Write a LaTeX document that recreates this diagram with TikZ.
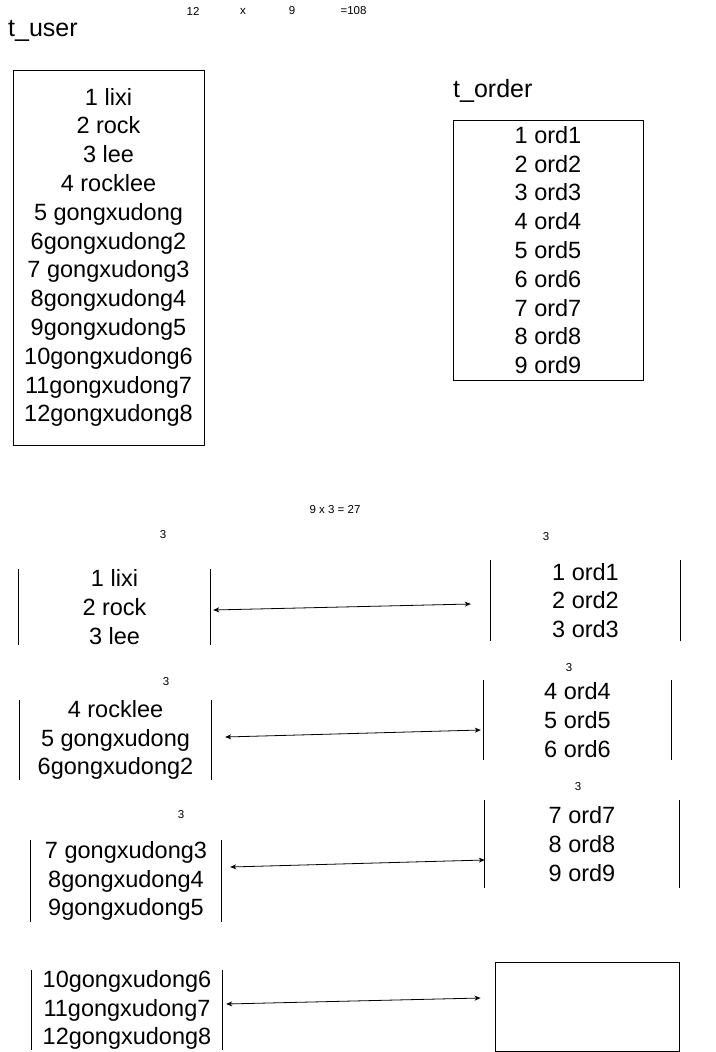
\documentclass[tikz,border=0pt]{standalone}
\usepackage{fontspec}
\setmainfont{Liberation Sans}
\usetikzlibrary{arrows.meta}

\newcommand\bigtxt{\fontsize{23.5}{28.8}\selectfont}
\newcommand\titletxt{\fontsize{25}{30}\selectfont}
\newcommand\sides[1]{\draw[line width=0.9pt] (#1.north west) -- (#1.south west) (#1.north east) -- (#1.south east);}

\tikzset{
  tbl/.style={draw, line width=0.9pt, align=center, font=\bigtxt, inner sep=0pt},
  part/.style={align=center, font=\bigtxt, inner sep=0pt},
  note/.style={font=\fontsize{11.5}{13}\selectfont, inner sep=0pt},
  link/.style={{Stealth[length=6pt,width=5pt]}-{Stealth[length=6pt,width=5pt]}, line width=0.8pt}
}

\begin{document}
\begin{tikzpicture}[x=1pt,y=-1pt]
\useasboundingbox (0,0) rectangle (715,1052);

% titles
\node[anchor=west, font=\titletxt, inner sep=0pt] (tuser) at (8,31) {t\_user};
\node[anchor=west, font=\titletxt, inner sep=0pt] (torder) at (453,91) {t\_order};
\node[note] (cnta) at (193,11) {12};
\node[note] (times) at (243,11) {x};
\node[note] (cntb) at (292,11) {9};
\node[note] (prod) at (353.5,11) {=108};

% whole tables
\node[tbl, minimum width=191, minimum height=375] (users) at (108.5,257.5)
  {1 lixi\\2 rock\\3 lee\\4 rocklee\\5 gongxudong\\6gongxudong2\\7 gongxudong3\\8gongxudong4\\9gongxudong5\\10gongxudong6\\11gongxudong7\\12gongxudong8};
\node[tbl, minimum width=190, minimum height=260] (orders) at (548,250)
  {1 ord1\\2 ord2\\3 ord3\\4 ord4\\5 ord5\\6 ord6\\7 ord7\\8 ord8\\9 ord9};

\node[note] (total) at (335,510) {9 x 3 = 27};

% split parts
\node[part, minimum width=191, minimum height=74] (u1) at (114.5,607) {1 lixi\\2 rock\\3 lee};
\node[part, minimum width=189, minimum height=81] (o1) at (585.5,600.5) {1 ord1\\2 ord2\\3 ord3};
\node[part, minimum width=191, minimum height=80] (u2) at (115.5,740) {4 rocklee\\5 gongxudong\\6gongxudong2};
\node[part, minimum width=187, minimum height=80] (o2) at (577.5,720) {4 ord4\\5 ord5\\6 ord6};
\node[part, minimum width=190, minimum height=82] (u3) at (126,881) {7 gongxudong3\\8gongxudong4\\9gongxudong5};
\node[part, minimum width=194, minimum height=88] (o3) at (582,844) {7 ord7\\8 ord8\\9 ord9};
\node[part, minimum width=190, minimum height=80] (u4) at (127,1010) {10gongxudong6\\11gongxudong7\\12gongxudong8};
\node[tbl, minimum width=184, minimum height=89] (o4) at (587,1006.5) {};

\sides{u1} \sides{o1}
\sides{u2} \sides{o2}
\sides{u3} \sides{o3}
\sides{u4}

\node[note] (s1) at (163,535) {3};
\node[note] (s2) at (546,537) {3};
\node[note] (s3) at (166,682) {3};
\node[note] (s4) at (569,668) {3};
\node[note] (s5) at (181,815) {3};
\node[note] (s6) at (578,787) {3};

% links
\draw[link] ([shift={(3,3)}]u1.east) -- ([shift={(-20,3.5)}]o1.west);
\draw[link] ([shift={(14,-3)}]u2.east) -- ([shift={(-3,10)}]o2.west);
\draw[link] ([shift={(9,-14)}]u3.east) -- ([shift={(0,16)}]o3.west);
\draw[link] ([shift={(4,-6)}]u4.east) -- ([shift={(-14,-8.5)}]o4.west);
\end{tikzpicture}
\end{document}
